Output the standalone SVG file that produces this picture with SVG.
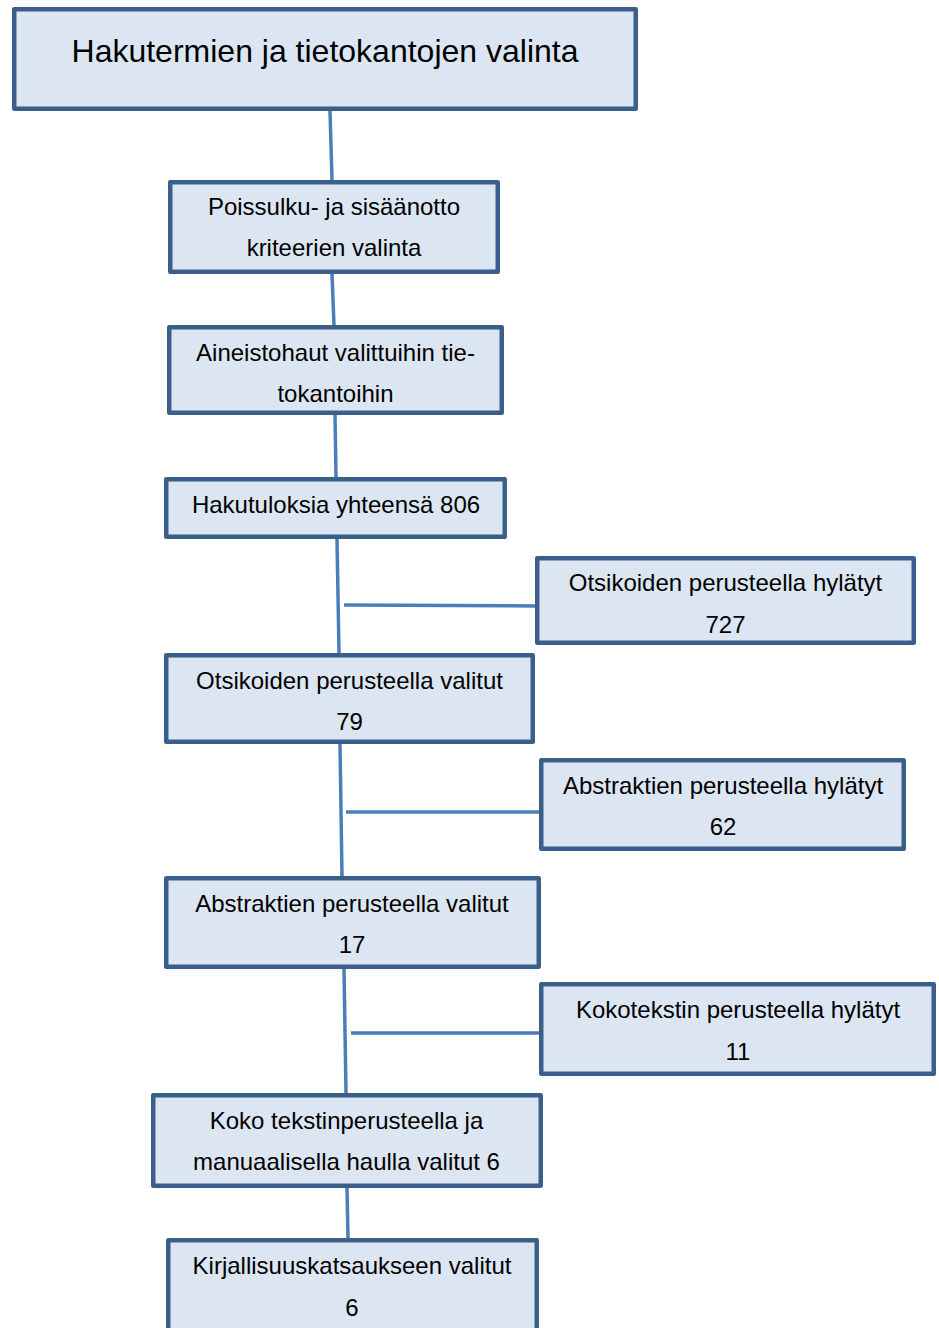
<svg xmlns="http://www.w3.org/2000/svg" width="939" height="1328" viewBox="0 0 939 1328">
<style>
.box{fill:#DCE6F2;stroke:#3A5F8B;stroke-width:4.5;stroke-linejoin:round}
.t{font-family:"Liberation Sans",Arial,sans-serif;font-size:24px;fill:#000;text-anchor:middle}
.title{font-size:32px}
.c{stroke:#4A7EBB;stroke-width:3.5;fill:none}
</style>
<rect width="939" height="1328" fill="#fff"/>
<g id="connectors">
<line class="c" x1="330" y1="111" x2="332" y2="180"/>
<line class="c" x1="332" y1="274" x2="334" y2="325"/>
<line class="c" x1="335" y1="415" x2="336" y2="477"/>
<line class="c" x1="337" y1="539" x2="339" y2="653"/>
<line class="c" x1="344" y1="605" x2="535" y2="606"/>
<line class="c" x1="340" y1="744" x2="342" y2="876"/>
<line class="c" x1="346" y1="812" x2="539" y2="812"/>
<line class="c" x1="344" y1="969" x2="346" y2="1093"/>
<line class="c" x1="351" y1="1033" x2="539" y2="1033"/>
<line class="c" x1="347" y1="1188" x2="348" y2="1238"/>
</g>
<g id="n1"><rect class="box" x="14.25" y="9.25" width="621.5" height="99.5"/><text class="t title" x="325" y="62">Hakutermien ja tietokantojen valinta</text></g>
<g id="n2"><rect class="box" x="170.25" y="182.25" width="327.5" height="89.5"/><text class="t" x="334" y="215">Poissulku- ja sisäänotto</text><text class="t" x="334" y="256">kriteerien valinta</text></g>
<g id="n3"><rect class="box" x="169.25" y="327.25" width="332.5" height="85.5"/><text class="t" x="335.5" y="361">Aineistohaut valittuihin tie-</text><text class="t" x="335.5" y="402">tokantoihin</text></g>
<g id="n4"><rect class="box" x="166.25" y="479.25" width="338.5" height="57.5"/><text class="t" x="336" y="513">Hakutuloksia yhteensä 806</text></g>
<g id="n5"><rect class="box" x="537.25" y="558.25" width="376.5" height="84.5"/><text class="t" x="725.5" y="591">Otsikoiden perusteella hylätyt</text><text class="t" x="725.5" y="633">727</text></g>
<g id="n6"><rect class="box" x="166.25" y="655.25" width="366.5" height="86.5"/><text class="t" x="349.5" y="689">Otsikoiden perusteella valitut</text><text class="t" x="349.5" y="730">79</text></g>
<g id="n7"><rect class="box" x="541.25" y="760.25" width="362.5" height="88.5"/><text class="t" x="723" y="794">Abstraktien perusteella hylätyt</text><text class="t" x="723" y="835">62</text></g>
<g id="n8"><rect class="box" x="166.25" y="878.25" width="372.5" height="88.5"/><text class="t" x="352" y="912">Abstraktien perusteella valitut</text><text class="t" x="352" y="953">17</text></g>
<g id="n9"><rect class="box" x="541.25" y="984.25" width="392.5" height="89.5"/><text class="t" x="738" y="1018">Kokotekstin perusteella hylätyt</text><text class="t" x="738" y="1060">11</text></g>
<g id="n10"><rect class="box" x="153.25" y="1095.25" width="387.5" height="90.5"/><text class="t" x="346.5" y="1129">Koko tekstinperusteella ja</text><text class="t" x="346.5" y="1170">manuaalisella haulla valitut 6</text></g>
<g id="n11"><rect class="box" x="168.25" y="1240.25" width="368.5" height="100"/><text class="t" x="352" y="1274">Kirjallisuuskatsaukseen valitut</text><text class="t" x="352" y="1316">6</text></g>
</svg>
